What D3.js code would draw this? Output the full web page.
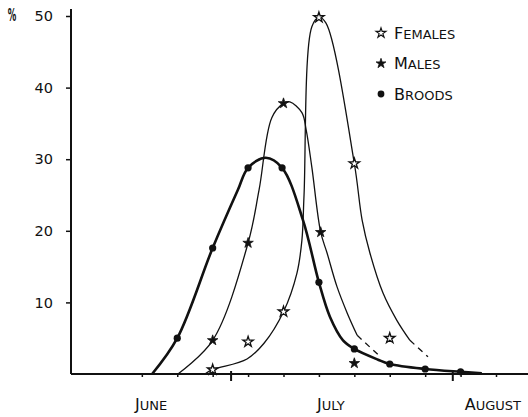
<!DOCTYPE html>
<html>
<head>
<meta charset="utf-8">
<title>Females, males and broods</title>
<script src="https://cdnjs.cloudflare.com/ajax/libs/d3/7.8.5/d3.min.js"></script>
<style>
	body { margin: 0; background: #fff; }
	text { font-family: "DejaVu Sans", sans-serif; fill: #111; }
</style>
</head>
<body>
<script>
	// x is in tick units (one tick per sampling date), y in percent
	var females = [[4, 0.6], [6, 8.7], [7, 49.8], [8, 29.4]];
	var femalesOff = [[5, 4.5], [9, 5.0]];
	var males = [[4, 4.7], [5, 18.3], [6, 37.8], [7.05, 19.8]];
	var malesOff = [[8, 1.5]];
	var broods = [[3, 5.0], [4, 17.6], [5, 28.8], [5.96, 28.8], [7, 12.8], [8, 3.5], [9, 1.4], [10, 0.7], [11, 0.3]];

	// hand fitted curves
	var femaleCurve = [[3.78, 0], [4, 0.6], [4.97, 2.1], [5.45, 4.3], [6, 8.7], [6.38, 14.1], [6.52, 18.7],
		[6.58, 25], [6.8, 48.5], [7, 49.8], [7.2, 49], [8, 29.4], [8.22, 21.5], [8.44, 16.9], [8.81, 11.3],
		[9.2, 7.5], [9.57, 4.7]];
	var femaleTail = [[9.57, 4.7], [10.08, 2.4]];
	var maleCurve = [[3.02, 0], [4, 4.7], [5, 18.3], [5.31, 25.7], [5.67, 35.8], [6, 37.8], [6.18, 38],
		[6.52, 36.5], [6.64, 34.1], [6.8, 28.9], [7.05, 19.8], [7.23, 16.9], [7.51, 12.2], [7.8, 8.5], [8.08, 5.4]];
	var maleTail = [[8.08, 5.4], [8.67, 2.7]];
	var broodCurve = [[2.29, 0], [3, 5.0], [4, 17.6], [4.71, 25.7], [5, 28.8], [5.5, 30.2], [5.96, 28.8],
		[6.55, 21.5], [7, 12.8], [7.31, 8.0], [7.68, 4.7], [8, 3.5], [8.67, 2.0], [9, 1.4],
		[10, 0.7], [11, 0.3], [11.6, 0.1]];

	var yTicks = [10, 20, 30, 40, 50];
	var xTicks = [2, 3, 4, 5, 6, 7, 8, 9, 10, 11, 12];
	var longTicks = [4.52, 10.78];
	var months = ['June', 'July', 'August'];
	var monthAt = [2.26, 7.34, 11.91];
	var legend = ['Females', 'Males', 'Broods'];

	var width = 528, height = 417;

	var svg = d3.select('body').append('svg')
		.attr('width', width)
		.attr('height', height);

	var x = d3.scaleLinear().domain([0, 12]).range([71, 496]);
	var y = d3.scaleLinear().domain([0, 50]).range([374, 16]);

	// axes
	var xAxis = d3.axisBottom(x).tickValues(xTicks).tickSize(3).tickFormat('');
	var gx = svg.append('g').attr('transform', 'translate(0,' + y(0) + ')').call(xAxis);
	gx.select('.domain').remove();
	gx.selectAll('line').attr('stroke', '#111').attr('stroke-width', 1.5);
	gx.append('line')
		.attr('x1', x(0)).attr('x2', width)
		.attr('stroke', '#111').attr('stroke-width', 2);
	gx.selectAll('.long').data(longTicks).enter().append('line')
		.attr('x1', function (d) { return x(d); })
		.attr('x2', function (d) { return x(d); })
		.attr('y1', -3).attr('y2', 7)
		.attr('stroke', '#111').attr('stroke-width', 2);

	var yAxis = d3.axisLeft(y).tickValues(yTicks).tickSize(5).tickPadding(13);
	var gy = svg.append('g').attr('transform', 'translate(' + x(0) + ',0)').call(yAxis);
	gy.select('.domain').remove();
	gy.selectAll('line').attr('stroke', '#111').attr('stroke-width', 1.5);
	gy.selectAll('text').attr('font-size', 14.5).attr('font-family', '"DejaVu Sans", sans-serif').attr('fill', '#111');
	gy.append('line')
		.attr('y1', y(0)).attr('y2', 9)
		.attr('stroke', '#111').attr('stroke-width', 2);

	svg.append('text')
		.attr('transform', 'translate(12,21) scale(0.5,1)')
		.attr('text-anchor', 'middle')
		.attr('font-size', 17)
		.attr('font-weight', 'bold')
		.text('%');

	// small-caps style labels: big first letter, smaller rest
	function capsLabel(sel, word, big, small) {
		sel.append('tspan').attr('font-size', big).text(word.charAt(0).toUpperCase());
		sel.append('tspan').attr('font-size', small).text(word.slice(1).toUpperCase());
	}

	months.forEach(function (m, i) {
		var t = svg.append('text')
			.attr('x', x(monthAt[i]))
			.attr('y', 410)
			.attr('text-anchor', 'middle');
		capsLabel(t, m, 16, 13);
	});

	// curves
	var line = d3.line()
		.x(function (d) { return x(d[0]); })
		.y(function (d) { return y(d[1]); })
		.curve(d3.curveCatmullRom.alpha(0.5));

	function drawCurve(pts, w, dash) {
		svg.append('path')
			.datum(pts)
			.attr('d', line)
			.attr('fill', 'none')
			.attr('stroke', '#111')
			.attr('stroke-width', w)
			.attr('stroke-dasharray', dash || null);
	}

	drawCurve(femaleCurve, 1.3);
	drawCurve(femaleTail, 1.3, '6,5');
	drawCurve(maleCurve, 1.3);
	drawCurve(maleTail, 1.3, '6,5');
	drawCurve(broodCurve, 2.6);

	// markers
	var star = d3.symbol().type(d3.symbolStar).size(34);

	function drawStars(pts, open) {
		svg.selectAll(null).data(pts).enter().append('path')
			.attr('d', star)
			.attr('transform', function (d) { return 'translate(' + x(d[0]) + ',' + y(d[1]) + ')'; })
			.attr('fill', open ? '#fff' : '#111')
			.attr('stroke', '#111')
			.attr('stroke-width', open ? 1.3 : 0.8);
	}

	drawStars(females.concat(femalesOff), true);
	drawStars(males.concat(malesOff), false);

	svg.selectAll(null).data(broods).enter().append('circle')
		.attr('cx', function (d) { return x(d[0]); })
		.attr('cy', function (d) { return y(d[1]); })
		.attr('r', 3.6)
		.attr('fill', '#111');

	// legend
	var lg = svg.append('g').attr('transform', 'translate(381,33)');
	legend.forEach(function (name, i) {
		var row = lg.append('g').attr('transform', 'translate(0,' + (i * 30.5) + ')');
		if (i === 2) {
			row.append('circle').attr('r', 3.4).attr('fill', '#111');
		} else {
			row.append('path')
				.attr('d', d3.symbol().type(d3.symbolStar).size(30))
				.attr('fill', i === 0 ? '#fff' : '#111')
				.attr('stroke', '#111')
				.attr('stroke-width', i === 0 ? 1.2 : 0.8);
		}
		var t = row.append('text').attr('x', 13).attr('y', 5.5);
		capsLabel(t, name, 16, 13);
	});
</script>
</body>
</html>
